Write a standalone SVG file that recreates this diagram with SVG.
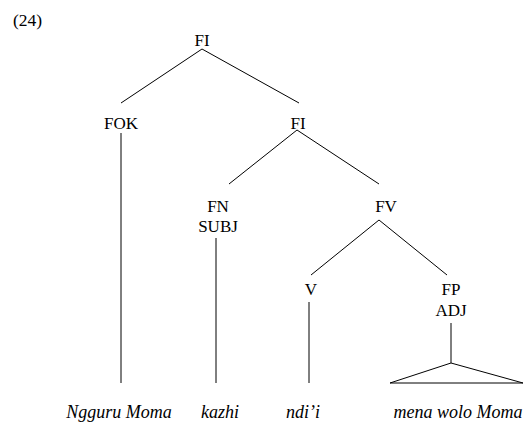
<svg xmlns="http://www.w3.org/2000/svg" width="526" height="424" viewBox="0 0 526 424" font-family="Liberation Serif, Times New Roman, serif" font-size="17">
<style>
line,polygon{stroke:#000;stroke-width:1;fill:none}
.it{font-style:italic;font-size:18px}
</style>
<rect width="526" height="424" fill="#fff"/>
<text x="13" y="26" font-size="17.5">(24)</text>
<g id="connectors">
<line x1="202" y1="49" x2="121" y2="103"/>
<line x1="202" y1="49" x2="299" y2="103"/>
<line x1="121" y1="133" x2="121" y2="383"/>
<line x1="297" y1="130" x2="229" y2="184"/>
<line x1="297" y1="130" x2="379" y2="184"/>
<line x1="216" y1="238" x2="216" y2="383"/>
<line x1="379" y1="220" x2="311" y2="275"/>
<line x1="379" y1="220" x2="447" y2="275"/>
<line x1="309" y1="302" x2="309" y2="383"/>
<line x1="451" y1="323" x2="451" y2="363"/>
<polygon points="451,363 390,383 523,383"/>
</g>
<g text-anchor="middle">
<g id="n-FI"><text x="202" y="46">FI</text></g>
<g id="n-FOK"><text x="121" y="129">FOK</text></g>
<g id="n-FI2"><text x="298" y="129">FI</text></g>
<g id="n-FN"><text x="218" y="212">FN</text><text x="218" y="232">SUBJ</text></g>
<g id="n-FV"><text x="386" y="212">FV</text></g>
<g id="n-V"><text x="311" y="295">V</text></g>
<g id="n-FP"><text x="451" y="295">FP</text><text x="451" y="316">ADJ</text></g>
<g id="w-1"><text class="it" x="119" y="418">Ngguru Moma</text></g>
<g id="w-2"><text class="it" x="220" y="418">kazhi</text></g>
<g id="w-3"><text class="it" x="303" y="418">ndi’i</text></g>
<g id="w-4"><text class="it" x="458" y="418">mena wolo Moma</text></g>
</g>
</svg>
